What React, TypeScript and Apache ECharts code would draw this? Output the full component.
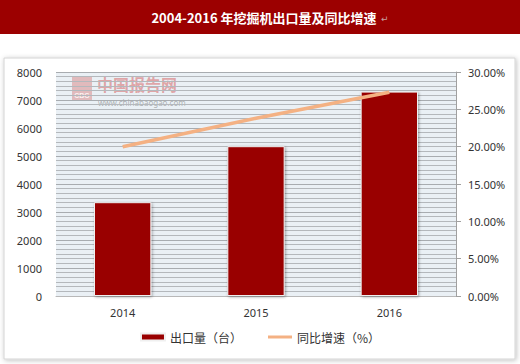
import React, { useEffect, useRef } from "react";
import * as echarts from "echarts";

const categories = ["2014", "2015", "2016"];
const exportVolume = [3350, 5350, 7300];
const growthRate = [20.0, 23.8, 27.3];
const leftTicks = [0, 8000, 1000];
const rightTicks = [0, 30, 5];
const titleText = "2004-2016 年挖掘机出口量及同比增速";
const barName = "出口量（台）";
const lineName = "同比增速（%）";

export default function App() {
  const ref = useRef<HTMLDivElement>(null);
  useEffect(() => {
    const chart = echarts.init(ref.current!, undefined, { renderer: "svg" });
    const font = "'Noto Sans', 'Noto Sans CJK SC', sans-serif";
    chart.setOption({
      animation: false,
      backgroundColor: "#ffffff",
      graphic: [
        { type: "rect", z: -10, shape: { x: 0, y: 0, width: 520, height: 34 }, style: { fill: "#9c0000" } },
        {
          type: "text", z: 10, x: 264, y: 17,
          style: { text: titleText, fill: "#ffffff", font: "bold 13px 'Noto Sans CJK SC', sans-serif", align: "center", verticalAlign: "middle" },
        },
        {
          type: "text", z: 10, x: 381, y: 19,
          style: { text: "↵", fill: "#c8a0a0", font: "9px 'DejaVu Sans', sans-serif", align: "left", verticalAlign: "middle" },
        },
        {
          type: "rect", z: -10,
          shape: { x: 4, y: 58, width: 511, height: 301 },
          style: { fill: "#ffffff", stroke: "#d4d4d4", lineWidth: 1, shadowBlur: 5, shadowColor: "rgba(0,0,0,0.25)", shadowOffsetX: 1, shadowOffsetY: 1 },
        },
        {
          type: "group", z: 5, x: 72, y: 76,
          children: [
            { type: "rect", shape: { x: 0, y: 0, width: 20, height: 24 }, style: { fill: "rgba(215,120,120,0.45)" } },
            { type: "text", x: 10, y: 19, style: { text: "CBG", fill: "rgba(255,255,255,0.85)", font: "bold 7px sans-serif", align: "center", verticalAlign: "middle" } },
            { type: "text", x: 25, y: 0, style: { text: "中国报告网", fill: "rgba(215,100,100,0.55)", font: "bold 16px 'Noto Sans CJK SC', sans-serif", align: "left", verticalAlign: "top" } },
            { type: "text", x: 26, y: 26, style: { text: "www.chinabaogao.com", fill: "rgba(120,120,120,0.55)", font: "8px 'Noto Sans', sans-serif", align: "left", verticalAlign: "middle" } },
          ],
        },
      ],
      legend: {
        bottom: 16,
        left: "center",
        itemGap: 26,
        itemWidth: 24,
        itemHeight: 7,
        textStyle: { fontFamily: "'Noto Sans CJK SC', sans-serif", fontSize: 12, color: "#333" },
        data: [
          { name: barName, icon: "rect" },
          { name: lineName, icon: "path://M0,0 L24,0 L24,3 L0,3 Z" },
        ],
      },
      grid: {
        left: 56, right: 64, top: 72, bottom: 68,
        show: true, backgroundColor: "#eaf0f5", borderWidth: 0,
      },
      xAxis: {
        type: "category",
        data: categories,
        axisLine: { show: true, lineStyle: { color: "#b8b8b8", width: 1 } },
        axisTick: { show: false },
        axisLabel: { color: "#333", fontSize: 11, fontFamily: font, margin: 11 },
      },
      yAxis: [
        {
          type: "value", min: leftTicks[0], max: leftTicks[1], interval: leftTicks[2],
          axisLine: { show: false }, axisTick: { show: false },
          axisLabel: { color: "#333", fontSize: 11, fontFamily: font, margin: 14, formatter: (v: number) => String(v) },
          splitLine: { show: true, lineStyle: { color: "#a8acb0", width: 1 } },
          minorTick: { show: false, splitNumber: 6 },
          minorSplitLine: { show: true, lineStyle: { color: "#b4b8bc", width: 1 } },
        },
        {
          type: "value", min: rightTicks[0], max: rightTicks[1], interval: rightTicks[2],
          position: "right",
          axisLine: { show: true, lineStyle: { color: "#a0a0a0" } },
          axisTick: { show: true, length: 5, inside: false, lineStyle: { color: "#a0a0a0" } },
          axisLabel: { color: "#333", fontSize: 11, fontFamily: font, margin: 12, formatter: (v: number) => v.toFixed(2) + "%" },
          splitLine: { show: false },
        },
      ],
      series: [
        {
          name: barName, type: "bar", data: exportVolume, barWidth: "43%",
          itemStyle: { color: "#990000", borderColor: "#f0f0f0", borderWidth: 1, shadowBlur: 3, shadowColor: "rgba(0,0,0,0.35)", shadowOffsetX: 1, shadowOffsetY: 1 },
        },
        {
          name: lineName, type: "line", yAxisIndex: 1, data: growthRate,
          symbol: "none", lineStyle: { color: "#f4b183", width: 3.5 }, itemStyle: { color: "#f4b183" }, z: 3,
        },
      ],
    });
    return () => chart.dispose();
  }, []);
  return <div ref={ref} style={{ position: "absolute", left: 0, top: 0, width: 520, height: 364 }} />;
}
